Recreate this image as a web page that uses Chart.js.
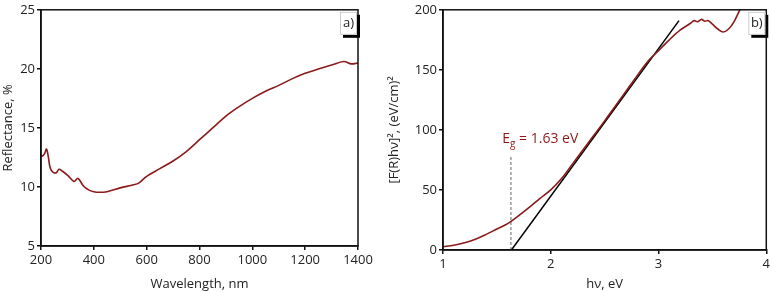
<!DOCTYPE html>
<html>
<head>
<meta charset="utf-8">
<script src="https://cdn.jsdelivr.net/npm/chart.js@4/dist/chart.umd.min.js"></script>
<style>
  html, body { margin: 0; padding: 0; background: #fff; }
  .wrap { position: absolute; top: 0; width: 386px; height: 292px; }
  #wa { left: 0; }
  #wb { left: 386px; }
</style>
</head>
<body>
<div class="wrap" id="wa"><canvas id="ca"></canvas></div>
<div class="wrap" id="wb"><canvas id="cb"></canvas></div>
<script>
// panel a) reflectance spectrum
var wavelength = [200, 205, 213, 221, 228, 235, 245, 258, 268, 280, 300, 325, 340, 360, 380, 400, 420, 450, 500, 550, 570, 600, 650, 700, 750, 800, 850, 900, 950, 1000, 1050, 1100, 1150, 1200, 1250, 1300, 1346, 1375, 1400];
var reflectance = [12.8, 12.6, 12.8, 13.2, 12.5, 11.6, 11.25, 11.2, 11.5, 11.35, 11.0, 10.47, 10.72, 10.1, 9.75, 9.6, 9.55, 9.6, 9.92, 10.18, 10.33, 10.9, 11.55, 12.2, 13.0, 14.0, 15.0, 16.0, 16.8, 17.5, 18.1, 18.6, 19.15, 19.62, 19.98, 20.32, 20.62, 20.42, 20.5];

// panel b) Kubelka-Munk plot
var energy = [1.0, 1.1, 1.2, 1.3, 1.4, 1.5, 1.6, 1.7, 1.8, 1.9, 2.0, 2.1, 2.2, 2.3, 2.4, 2.5, 2.6, 2.7, 2.8, 2.9, 3.0, 3.1, 3.2, 3.3, 3.33, 3.36, 3.4, 3.43, 3.46, 3.5, 3.55, 3.6, 3.65, 3.7, 3.76];
var kmValue = [2.7, 4, 6, 9, 13, 17.5, 22, 28.5, 35.5, 43, 50, 59.5, 71.5, 83.5, 95.5, 107.5, 120, 132.5, 145, 157, 166, 175, 183, 189, 191, 190, 192, 190.5, 191, 188, 184, 181.5, 184, 190, 201];
var fitX = [1.635, 3.19];
var fitY = [0, 191];
var gapEnergy = 1.63;
var gapMarkY = [0, 78];

var red = '#8b1a1a';
var font = '"Open Sans", "DejaVu Sans", sans-serif';
Chart.defaults.font.family = font;
Chart.defaults.color = '#222';

function pts(xs, ys) {
  return xs.map(function (x, i) { return {x: x, y: ys[i]}; });
}

var framePlugin = {
  id: 'frame',
  afterDraw: function (chart, args, opts) {
    var a = chart.chartArea, ctx = chart.ctx;
    ctx.save();
    ctx.strokeStyle = '#111';
    ctx.lineWidth = 1.5;
    ctx.strokeRect(a.left, a.top, a.right - a.left, a.bottom - a.top);
    // panel tag box with shadow
    var bw = 17, bh = 23;
    var bx = a.right - bw - 1, by = a.top + 2;
    ctx.fillStyle = '#000';
    ctx.fillRect(bx + 3, by + 3, bw, bh);
    ctx.fillStyle = '#fff';
    ctx.fillRect(bx, by, bw, bh);
    ctx.strokeStyle = '#ccc';
    ctx.lineWidth = 1;
    ctx.strokeRect(bx + 0.5, by + 0.5, bw - 1, bh - 1);
    ctx.fillStyle = '#222';
    ctx.font = '13px ' + font;
    ctx.textAlign = 'center';
    ctx.textBaseline = 'middle';
    ctx.fillText(opts.tag, bx + bw / 2, by + bh / 2);
    ctx.restore();
  }
};

function fixed(w) { return function (s) { s.width = w; }; }
function fixedH(h) { return function (s) { s.height = h; }; }
function plain(v) { return String(v); }

function axis(min, max, step, title, extra) {
  var o = {
    type: 'linear', min: min, max: max,
    grid: { display: true, drawOnChartArea: false, drawTicks: true, tickLength: 4, color: '#111', lineWidth: 1.5 },
    border: { display: true, color: '#111', width: 1.5 },
    ticks: { stepSize: step, font: { size: 13 }, color: '#222', padding: 2, callback: plain },
    title: { display: true, text: title, font: { size: 13 }, color: '#222', padding: 0 }
  };
  for (var k in extra) o[k] = extra[k];
  return o;
}

new Chart(document.getElementById('ca'), {
  type: 'scatter',
  data: {
    datasets: [{
      data: pts(wavelength, reflectance),
      showLine: true, borderColor: red, borderWidth: 1.6, pointRadius: 0,
      tension: 0.35
    }]
  },
  options: {
    responsive: true, maintainAspectRatio: false, animation: false,
    layout: { padding: { top: 6, right: 28, left: 0, bottom: 0 } },
    plugins: { legend: { display: false }, tooltip: { enabled: false }, frame: { tag: 'a)' } },
    scales: {
      x: axis(200, 1400, 200, 'Wavelength, nm', { afterFit: fixedH(46) }),
      y: axis(5, 25, 5, 'Reflectance, %', { afterFit: fixed(41) })
    }
  },
  plugins: [framePlugin]
});

var labelPlugin = {
  id: 'eglabel',
  afterDraw: function (chart) {
    var ctx = chart.ctx;
    var x = chart.scales.x.getPixelForValue(1.55);
    var y = chart.scales.y.getPixelForValue(92);
    ctx.save();
    ctx.fillStyle = red;
    ctx.textBaseline = 'middle';
    ctx.textAlign = 'left';
    ctx.font = '14px ' + font;
    ctx.fillText('E', x, y);
    var w = ctx.measureText('E').width;
    ctx.font = '10px ' + font;
    ctx.fillText('g', x + w, y + 5);
    var w2 = ctx.measureText('g').width;
    ctx.font = '14px ' + font;
    ctx.fillText(' = ' + gapEnergy + ' eV', x + w + w2, y);
    ctx.restore();
  }
};

new Chart(document.getElementById('cb'), {
  type: 'scatter',
  data: {
    datasets: [{
      data: pts(energy, kmValue),
      showLine: true, borderColor: red, borderWidth: 1.6, pointRadius: 0,
      tension: 0.35, clip: 0
    }, {
      data: pts(fitX, fitY),
      showLine: true, borderColor: '#000', borderWidth: 1.5, pointRadius: 0
    }, {
      data: pts([gapEnergy, gapEnergy], gapMarkY),
      showLine: true, borderColor: '#999', borderWidth: 1.5, borderDash: [3, 2], pointRadius: 0
    }]
  },
  options: {
    responsive: true, maintainAspectRatio: false, animation: false,
    layout: { padding: { top: 5, right: 5, left: 0, bottom: 0 } },
    plugins: { legend: { display: false }, tooltip: { enabled: false }, frame: { tag: 'b)' } },
    scales: {
      x: axis(1, 4, 1, 'hν, eV', { afterFit: fixedH(42) }),
      y: axis(0, 200, 50, '[F(R)hν]², (eV/cm)²', { afterFit: fixed(57) })
    }
  },
  plugins: [framePlugin, labelPlugin]
});
</script>
</body>
</html>
